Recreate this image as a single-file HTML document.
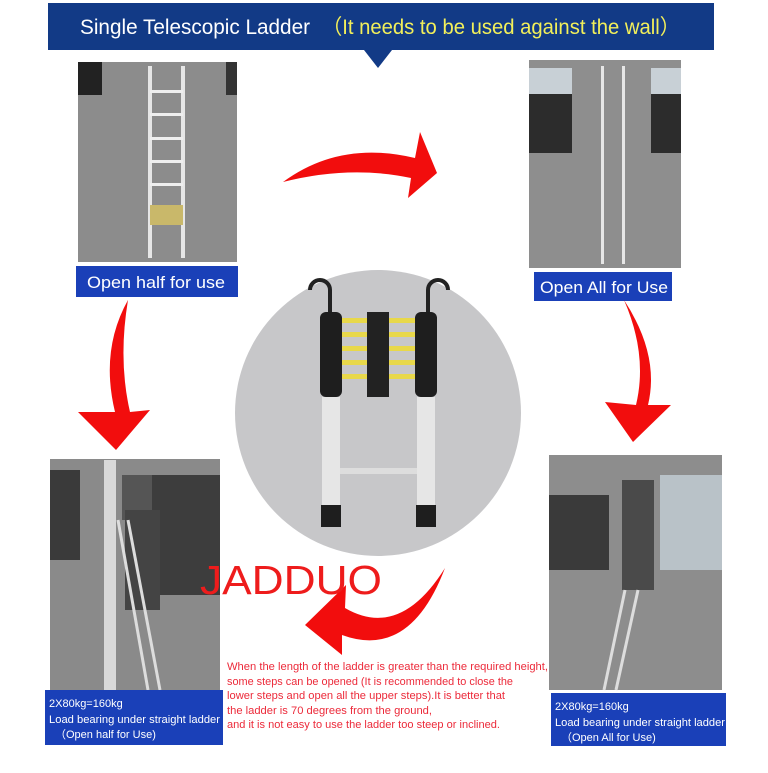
<!DOCTYPE html>
<html><head><meta charset="utf-8"><style>
body{margin:0;width:768px;height:768px;background:#fff;overflow:hidden;font-family:"Liberation Sans",sans-serif}
</style></head><body>
<svg width="768" height="768" viewBox="0 0 768 768" xmlns="http://www.w3.org/2000/svg" font-family="Liberation Sans, sans-serif">
<!-- banner -->
<rect x="48" y="3" width="666" height="47" fill="#123a86"/>
<polygon points="364,50 392,50 378,68" fill="#123a86"/>
<text x="80" y="34" font-size="21" fill="#fff" textLength="230" lengthAdjust="spacingAndGlyphs">Single Telescopic Ladder</text>
<text x="322" y="34" font-size="21" fill="#f2ef5a" textLength="358" lengthAdjust="spacingAndGlyphs">（It needs to be used against the wall）</text>

<!-- photos -->
<defs>
<g id="lad"><rect x="-18" y="0" width="3" height="100" fill="#ddd"/><rect x="15" y="0" width="3" height="100" fill="#ddd"/></g>
</defs>
<rect x="78" y="62" width="159" height="200" fill="#8c8c8c"/>
<rect x="78" y="62" width="24" height="33" fill="#222"/><rect x="226" y="62" width="11" height="33" fill="#333"/>
<rect x="148" y="66" width="4" height="192" fill="#e6e6e6"/><rect x="181" y="66" width="4" height="192" fill="#e6e6e6"/>
<g fill="#eee"><rect x="150" y="90" width="33" height="3"/><rect x="150" y="113" width="33" height="3"/><rect x="150" y="137" width="33" height="3"/><rect x="150" y="160" width="33" height="3"/><rect x="150" y="183" width="33" height="3"/></g>
<rect x="150" y="205" width="33" height="20" fill="#c9b86a"/>

<rect x="529" y="60" width="152" height="208" fill="#8e8e8e"/>
<rect x="529" y="68" width="43" height="85" fill="#2c2c2c"/><rect x="651" y="68" width="30" height="85" fill="#2c2c2c"/>
<rect x="529" y="68" width="43" height="26" fill="#c8d0d6"/><rect x="651" y="68" width="30" height="26" fill="#c8d0d6"/>
<rect x="601" y="66" width="3" height="198" fill="#e6e6e6"/><rect x="622" y="66" width="3" height="198" fill="#e6e6e6"/>

<rect x="50" y="459" width="170" height="231" fill="#8a8a8a"/>
<rect x="50" y="470" width="30" height="90" fill="#3a3a3a"/><rect x="150" y="475" width="70" height="120" fill="#3d3d3d"/>
<rect x="104" y="460" width="12" height="230" fill="#d8d8d8"/>
<rect x="122" y="475" width="30" height="45" fill="#555"/><rect x="125" y="510" width="35" height="100" fill="#444"/>
<line x1="118" y1="520" x2="148" y2="690" stroke="#ddd" stroke-width="3"/><line x1="128" y1="520" x2="160" y2="690" stroke="#ddd" stroke-width="3"/>

<rect x="549" y="455" width="173" height="235" fill="#8d8d8d"/>
<rect x="549" y="495" width="60" height="75" fill="#3a3a3a"/><rect x="660" y="475" width="62" height="95" fill="#b9c2c8"/>
<rect x="622" y="480" width="32" height="110" fill="#4a4a4a"/>
<line x1="625" y1="590" x2="604" y2="690" stroke="#ddd" stroke-width="3"/><line x1="638" y1="590" x2="616" y2="690" stroke="#ddd" stroke-width="3"/>

<!-- labels -->
<rect x="76" y="266" width="162" height="31" fill="#1a40b8"/>
<text x="87" y="288" font-size="17" fill="#fff" textLength="138" lengthAdjust="spacingAndGlyphs">Open half for use</text>
<rect x="534" y="272" width="138" height="29" fill="#1a40b8"/>
<text x="540" y="293" font-size="17" fill="#fff" textLength="128" lengthAdjust="spacingAndGlyphs">Open All for Use</text>

<rect x="45" y="690" width="178" height="55" fill="#1a40b8"/>
<g font-size="11" fill="#fff"><text x="49" y="707">2X80kg=160kg</text><text x="49" y="723" textLength="171" lengthAdjust="spacingAndGlyphs">Load bearing under straight ladder</text><text x="55" y="738">（Open half for Use)</text></g>
<rect x="551" y="693" width="175" height="53" fill="#1a40b8"/>
<g font-size="11" fill="#fff"><text x="555" y="710">2X80kg=160kg</text><text x="555" y="726" textLength="170" lengthAdjust="spacingAndGlyphs">Load bearing under straight ladder</text><text x="561" y="741">（Open All for Use)</text></g>

<!-- circle -->
<circle cx="378" cy="413" r="143" fill="#c7c7c9"/>
<path d="M330,315 v-25 a10,10 0 0 0 -20,0" fill="none" stroke="#222" stroke-width="4"/>
<path d="M428,315 v-25 a10,10 0 0 1 20,0" fill="none" stroke="#222" stroke-width="4"/>
<rect x="320" y="312" width="22" height="85" rx="6" fill="#1e1e1e"/><rect x="415" y="312" width="22" height="85" rx="6" fill="#1e1e1e"/>
<g fill="#e8d84a"><rect x="342" y="318" width="73" height="5"/><rect x="342" y="332" width="73" height="5"/><rect x="342" y="346" width="73" height="5"/><rect x="342" y="360" width="73" height="5"/><rect x="342" y="374" width="73" height="5"/></g>
<rect x="367" y="312" width="22" height="85" fill="#222"/>
<rect x="322" y="397" width="18" height="110" fill="#e6e6e6"/><rect x="417" y="397" width="18" height="110" fill="#e6e6e6"/>
<rect x="340" y="468" width="77" height="6" fill="#ddd"/>
<rect x="321" y="505" width="20" height="22" fill="#1e1e1e"/><rect x="416" y="505" width="20" height="22" fill="#1e1e1e"/>

<!-- arrows -->
<g fill="#f20d0d">
<path d="M283,182 Q340,140 415,158 L420,132 L437,173 L408,198 L411,178 Q350,165 283,182Z"/>
<path d="M128,300 Q100,350 115,412 L78,412 L116,450 L150,410 L130,412 Q118,360 128,300Z"/>
<path d="M624,300 Q648,355 636,405 L605,402 L633,442 L671,405 L648,405 Q660,355 624,300Z"/>
<path d="M445,568 Q400,640 345,608 L346,585 L305,625 L342,655 L342,635 Q410,660 445,568Z"/>
</g>
<text x="200" y="594" font-size="41" fill="#ee1c1c" textLength="182" lengthAdjust="spacingAndGlyphs">JADDUO</text>
<g font-size="11" fill="#ec2a3a">
<text x="227" y="670" textLength="321" lengthAdjust="spacingAndGlyphs">When the length of the ladder is greater than the required height,</text>
<text x="227" y="685" textLength="286" lengthAdjust="spacingAndGlyphs">some steps can be opened (It is recommended to close the</text>
<text x="227" y="699" textLength="278" lengthAdjust="spacingAndGlyphs">lower steps and open all the upper steps).It is better that</text>
<text x="227" y="714" textLength="205" lengthAdjust="spacingAndGlyphs">the ladder is 70 degrees from the ground,</text>
<text x="227" y="728" textLength="273" lengthAdjust="spacingAndGlyphs">and it is not easy to use the ladder too steep or inclined.</text>
</g>
</svg>
</body></html>
